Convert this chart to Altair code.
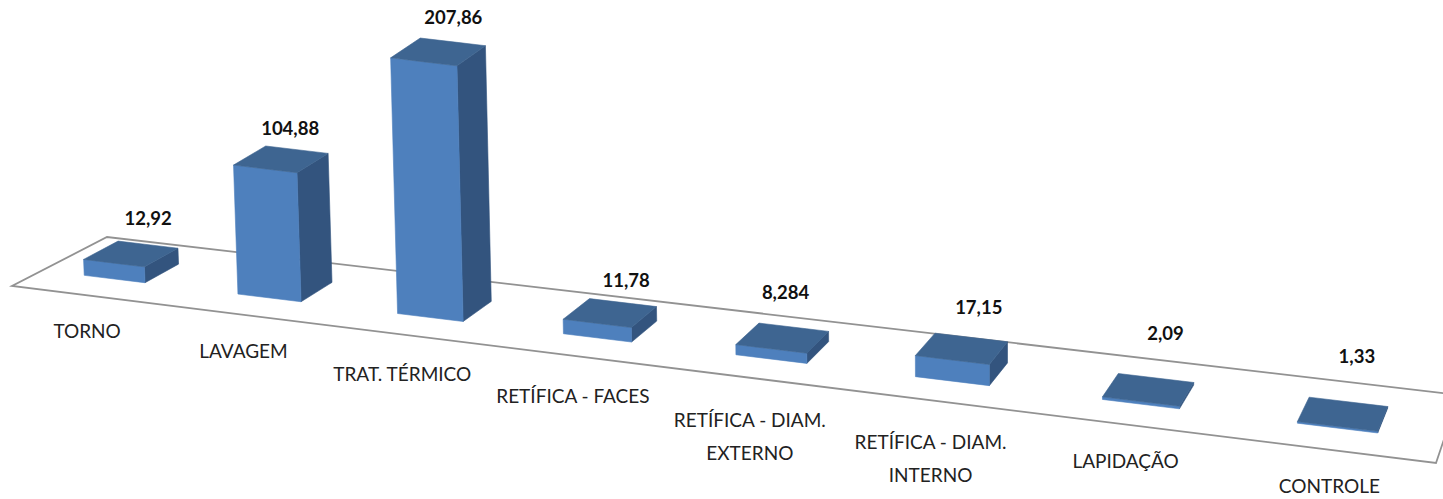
import altair as alt
import numpy as np
import pandas as pd

# Chart values
categories = ["TORNO", "LAVAGEM", "TRAT. TÉRMICO", "RETÍFICA - FACES",
              "RETÍFICA - DIAM.\nEXTERNO", "RETÍFICA - DIAM.\nINTERNO",
              "LAPIDAÇÃO", "CONTROLE"]
values = [12.92, 104.88, 207.86, 11.78, 8.284, 17.15, 2.09, 1.33]
value_labels = ["12,92", "104,88", "207,86", "11,78", "8,284", "17,15", "2,09", "1,33"]

# Oblique view of the chart floor
W, H = 1443, 499
FLOOR = [(12, 286), (1436, 463), (1459, 395), (107, 237)]  # front-left, front-right, back-right, back-left
BAR_HALF, V0, V1, U_SHIFT = 0.2, 0.31, 0.68, -0.0028
PX_PER_UNIT = 1.23


def floor_homography(c):
    src = [(0, 0), (1, 0), (1, 1), (0, 1)]
    a, b = [], []
    for (u, v), (x, y) in zip(src, c):
        a.append([u, v, 1, 0, 0, 0, -u * x, -v * x]); b.append(x)
        a.append([0, 0, 0, u, v, 1, -u * y, -v * y]); b.append(y)
    return np.append(np.linalg.solve(np.array(a, float), np.array(b, float)), 1).reshape(3, 3)


M = floor_homography(FLOOR)


def project(u, v, h=0.0):
    """Floor position (u, v) raised by value h, in canvas units."""
    p = M @ np.array([u, v, 1.0])
    x, y = p[0] / p[2], p[1] / p[2]
    lean = 0.045 * (1 - x / 1000)
    rise = h * PX_PER_UNIT
    return x - lean * rise, y - rise


def quad_rows(name, pts, fill):
    """A convex four-sided face as the upper and lower bounds of an area."""
    rows = []
    xs = sorted({p[0] for p in pts})
    for x in xs:
        ys = []
        for (x0, y0), (x1, y1) in zip(pts, pts[1:] + pts[:1]):
            if min(x0, x1) <= x <= max(x0, x1):
                if x0 == x1:
                    ys += [y0, y1]
                else:
                    ys.append(y0 + (y1 - y0) * (x - x0) / (x1 - x0))
        rows.append({"face": name, "x": x, "y": min(ys), "y2": max(ys), "fill": fill})
    return rows


FRONT, TOP, SIDE = "#4e80bd", "#3e6591", "#33547e"
n = len(categories)
face_rows, value_rows, cat_rows = [], [], []
value_nudge = [(17, -35), (9, -30), (15, -34), (16, -32), (3, -45), (17, -41), (17, -56), (14, -57)]
cat_nudge = [(47, 13), (43, 12), (35, 14), (32, 14), (28, 14), (20, 12), (18, 6), (16, 5)]

for i, (cat, val, lab) in enumerate(zip(categories, values, value_labels)):
    uc = (i + 0.5) / n + U_SHIFT
    u0, u1 = uc - BAR_HALF / n, uc + BAR_HALF / n
    fl0, fl1 = project(u0, V0), project(u1, V0)
    fl0t, fl1t = project(u0, V0, val), project(u1, V0, val)
    bl1, bl1t = project(u1, V1), project(u1, V1, val)
    bl0t = project(u0, V1, val)
    face_rows += quad_rows(f"{i}-side", [fl1, bl1, bl1t, fl1t], SIDE)
    face_rows += quad_rows(f"{i}-front", [fl0, fl1, fl1t, fl0t], FRONT)
    face_rows += quad_rows(f"{i}-top", [fl0t, fl1t, bl1t, bl0t], TOP)
    cx, cy = project(uc, (V0 + V1) / 2, val)
    dx, dy = value_nudge[i]
    value_rows.append({"x": cx + dx, "y": cy + dy, "label": lab})
    lx, ly = project(uc, -0.45)
    cat_rows.append({"x": lx + cat_nudge[i][0], "y": ly + cat_nudge[i][1], "label": cat})

# Floor outline; its far corner runs off the canvas and is clipped
floor_line = pd.DataFrame([
    {"x": x, "y": y, "o": k} for k, (x, y) in enumerate(
        [FLOOR[2], FLOOR[3], FLOOR[0], FLOOR[1], FLOOR[2]])
])

x_enc = alt.X("x:Q", scale=alt.Scale(domain=[0, W], range=[0, W]), axis=None)
y_enc = alt.Y("y:Q", scale=alt.Scale(domain=[0, H], range=[0, H]), axis=None)

floor = alt.Chart(floor_line).mark_line(color="#929292", strokeWidth=1.8, clip=True).encode(
    x=x_enc, y=y_enc, order="o:Q")
faces = alt.Chart(pd.DataFrame(face_rows)).mark_area(strokeWidth=0.6, clip=True).encode(
    x=x_enc, y=y_enc, y2="y2:Q", detail="face:N",
    fill=alt.Fill("fill:N", scale=None), stroke=alt.Stroke("fill:N", scale=None))
value_text = alt.Chart(pd.DataFrame(value_rows)).mark_text(
    font="Lato", fontSize=18.5, fontWeight="bold", color="#111111").encode(
    x=x_enc, y=y_enc, text="label:N")
cat_text = alt.Chart(pd.DataFrame(cat_rows)).mark_text(
    font="Lato", fontSize=19, color="#222222", lineBreak="\n", lineHeight=33).encode(
    x=x_enc, y=y_enc, text="label:N")

chart = alt.layer(floor, faces, value_text, cat_text).properties(
    width=W, height=H, padding=0, background="white",
    autosize=alt.AutoSizeParams(type="none")
).configure_view(stroke=None)

chart.save("out.html", embed_options={"renderer": "svg", "actions": False})
